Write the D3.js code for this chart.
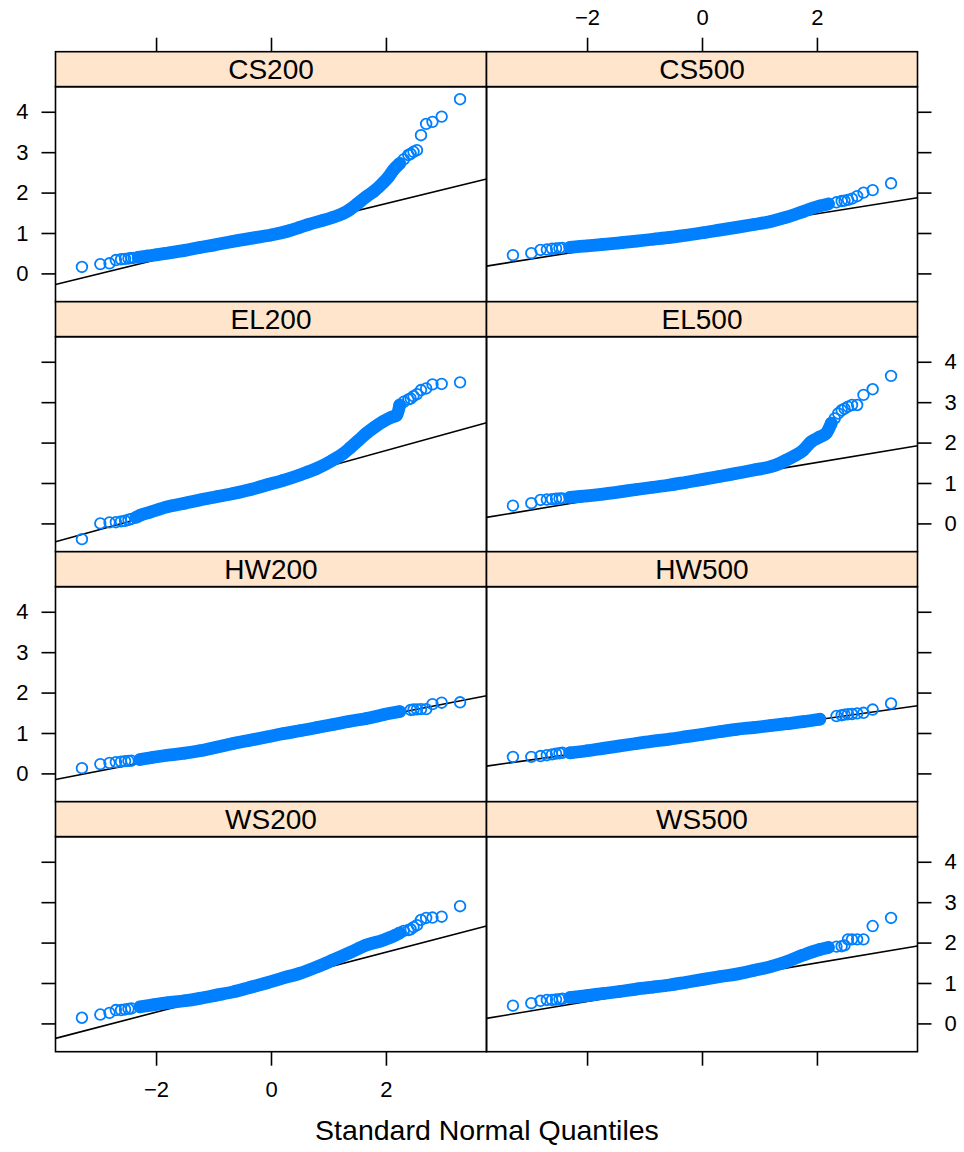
<!DOCTYPE html>
<html>
<head>
<meta charset="utf-8">
<script src="https://cdn.jsdelivr.net/npm/d3@7"></script>
<style>
  body { margin: 0; background: #fff; }
  svg { display: block; }
  text { font-family: "Liberation Sans", Arial, Helvetica, sans-serif; fill: #000; }
</style>
</head>
<body>
<svg id="chart" width="964" height="1152"></svg>
<script>
// Panel names, in lattice order (left-to-right, top-to-bottom)
const panelNames = ["CS200", "CS500", "EL200", "EL500", "HW200", "HW500", "WS200", "WS500"];
const xTicks = [-2, 0, 2];
const yTicks = [0, 1, 2, 3, 4];
const xTitle = "Standard Normal Quantiles";

// [theoretical normal quantile, sample value]
const cs200 = [[-3.29,0.16],[-2.97,0.23],[-2.81,0.25],[-2.70,0.33],[-2.61,0.35],[-2.54,0.36],[-2.48,0.37],[-2.43,0.38],[-2.39,0.385],[-2.31,0.40],[-2.16,0.43],[-2.0,0.46],[-1.81,0.50],[-1.5,0.57],[-1.24,0.64],[-1.0,0.70],[-0.67,0.79],[-0.3,0.88],[0,0.95],[0.3,1.05],[0.5,1.14],[0.67,1.22],[0.9,1.31],[1.08,1.39],[1.25,1.48],[1.37,1.58],[1.5,1.72],[1.66,1.90],[1.78,2.02],[1.95,2.24],[2.04,2.38],[2.13,2.56],[2.24,2.72],[2.31,2.82],[2.39,2.93],[2.43,2.96],[2.48,3.01],[2.54,3.05],[2.61,3.42],[2.70,3.70],[2.81,3.75],[2.97,3.88],[3.29,4.31]];
const cs500 = [[-3.29,0.45],[-2.97,0.50],[-2.81,0.58],[-2.70,0.59],[-2.61,0.61],[-2.54,0.62],[-2.48,0.625],[-2.43,0.63],[-2.30,0.645],[-2.0,0.68],[-1.72,0.72],[-1.4,0.76],[-1.14,0.80],[-0.85,0.845],[-0.56,0.89],[-0.28,0.945],[0.02,1.005],[0.3,1.07],[0.6,1.14],[0.9,1.21],[1.18,1.28],[1.47,1.39],[1.76,1.53],[2.05,1.67],[2.2,1.72],[2.34,1.76],[2.43,1.79],[2.48,1.80],[2.54,1.82],[2.61,1.85],[2.70,1.91],[2.81,2.00],[2.97,2.06],[3.29,2.23]];
const el200 = [[-3.29,-0.39],[-2.97,0.0],[-2.81,0.025],[-2.70,0.03],[-2.61,0.05],[-2.54,0.065],[-2.48,0.09],[-2.43,0.11],[-2.35,0.15],[-2.28,0.2],[-2.1,0.28],[-1.81,0.41],[-1.5,0.50],[-1.24,0.58],[-0.95,0.66],[-0.66,0.74],[-0.35,0.84],[-0.08,0.95],[0.2,1.06],[0.5,1.20],[0.8,1.36],[1.08,1.57],[1.25,1.72],[1.37,1.86],[1.52,2.05],[1.66,2.23],[1.8,2.38],[1.95,2.52],[2.10,2.63],[2.19,2.68],[2.24,2.93],[2.31,3.01],[2.39,3.07],[2.43,3.09],[2.48,3.15],[2.54,3.2],[2.61,3.30],[2.70,3.34],[2.81,3.44],[2.97,3.45],[3.29,3.49]];
const el500 = [[-3.29,0.44],[-2.97,0.50],[-2.81,0.58],[-2.70,0.59],[-2.61,0.60],[-2.54,0.61],[-2.48,0.615],[-2.43,0.62],[-2.30,0.645],[-2.0,0.68],[-1.72,0.725],[-1.43,0.78],[-1.14,0.84],[-0.85,0.895],[-0.56,0.95],[-0.27,1.02],[0.02,1.09],[0.3,1.16],[0.6,1.24],[0.9,1.32],[1.18,1.40],[1.33,1.47],[1.47,1.57],[1.62,1.68],[1.76,1.81],[1.90,2.02],[2.05,2.14],[2.16,2.23],[2.25,2.48],[2.31,2.60],[2.37,2.72],[2.43,2.80],[2.48,2.84],[2.54,2.89],[2.61,2.93],[2.70,2.93],[2.81,3.18],[2.97,3.32],[3.29,3.65]];
const hw200 = [[-3.29,0.13],[-2.97,0.23],[-2.81,0.26],[-2.70,0.28],[-2.61,0.29],[-2.54,0.305],[-2.48,0.31],[-2.43,0.315],[-2.28,0.345],[-2.05,0.40],[-1.81,0.45],[-1.5,0.50],[-1.24,0.56],[-0.95,0.65],[-0.66,0.74],[-0.37,0.82],[-0.08,0.90],[0.2,0.98],[0.5,1.055],[0.8,1.135],[1.08,1.21],[1.37,1.29],[1.66,1.36],[1.95,1.45],[2.24,1.53],[2.43,1.57],[2.48,1.58],[2.54,1.585],[2.61,1.59],[2.70,1.59],[2.81,1.715],[2.97,1.75],[3.29,1.76]];
const hw500 = [[-3.29,0.41],[-2.97,0.41],[-2.81,0.43],[-2.70,0.45],[-2.61,0.47],[-2.54,0.49],[-2.48,0.50],[-2.43,0.51],[-2.30,0.51],[-2.0,0.56],[-1.72,0.62],[-1.43,0.68],[-1.14,0.74],[-0.85,0.80],[-0.56,0.85],[-0.27,0.91],[0.02,0.97],[0.3,1.03],[0.6,1.09],[0.9,1.135],[1.18,1.18],[1.47,1.23],[1.76,1.28],[2.05,1.34],[2.34,1.42],[2.43,1.44],[2.48,1.455],[2.54,1.465],[2.61,1.47],[2.70,1.485],[2.81,1.50],[2.97,1.58],[3.29,1.73]];
const ws200 = [[-3.29,0.14],[-2.97,0.22],[-2.81,0.26],[-2.70,0.33],[-2.61,0.33],[-2.54,0.345],[-2.48,0.36],[-2.43,0.37],[-2.28,0.41],[-2.05,0.46],[-1.81,0.51],[-1.5,0.56],[-1.24,0.62],[-0.95,0.70],[-0.66,0.78],[-0.37,0.89],[-0.08,1.00],[0.2,1.12],[0.5,1.24],[0.8,1.40],[1.08,1.57],[1.37,1.75],[1.66,1.94],[1.95,2.06],[2.16,2.18],[2.24,2.24],[2.31,2.29],[2.39,2.31],[2.43,2.33],[2.48,2.38],[2.54,2.43],[2.61,2.56],[2.70,2.61],[2.81,2.62],[2.97,2.64],[3.29,2.90]];
const ws500 = [[-3.29,0.44],[-2.97,0.50],[-2.81,0.56],[-2.70,0.58],[-2.61,0.58],[-2.54,0.59],[-2.48,0.60],[-2.43,0.61],[-2.30,0.64],[-2.0,0.69],[-1.72,0.74],[-1.43,0.79],[-1.14,0.85],[-0.85,0.90],[-0.56,0.95],[-0.27,1.02],[0.02,1.09],[0.3,1.155],[0.6,1.22],[0.9,1.31],[1.18,1.40],[1.47,1.525],[1.76,1.69],[2.05,1.83],[2.2,1.88],[2.34,1.90],[2.43,1.91],[2.48,1.93],[2.54,2.08],[2.61,2.08],[2.70,2.08],[2.81,2.08],[2.97,2.41],[3.29,2.61]];

// Reference line (through the quartiles) for each panel
const qqIntercept = [1.031, 1.026, 1.017, 1.035, 0.886, 0.927, 1.019, 1.019];
const qqSlope     = [0.3475, 0.2253, 0.3927, 0.2363, 0.276, 0.199, 0.3705, 0.2386];

const panelData = [cs200, cs500, el200, el500, hw200, hw500, ws200, ws500];

// ---- layout ----
const colX0 = [55.5, 486.5];
const colW = 431;
const rowTop0 = 51.7;
const rowH = 250;
const stripH = 35;
const panelH = 215;
const xDomain = [-3.75, 3.75];
const yDomain = [-0.70, 4.62];

const symbolColor = "#0080ff";
const stripColor = "#ffe5cc";
const lw = 1.6;
const ringR = 5.3;
const ringW = 1.8;
const bandW = 12.8;
const bandQ = [-2.35, 2.25]; // where the point cloud overlaps into a solid band

const svg = d3.select("#chart");
const defs = svg.append("defs");

panelNames.forEach((name, i) => {
  const col = i % 2, row = Math.floor(i / 2);
  const x0 = colX0[col];
  const top = rowTop0 + row * rowH;
  const pTop = top + stripH, pBot = pTop + panelH;

  const x = d3.scaleLinear().domain(xDomain).range([x0, x0 + colW]);
  const y = d3.scaleLinear().domain(yDomain).range([pBot, pTop]);

  const clipId = "clip" + i;
  defs.append("clipPath").attr("id", clipId)
    .append("rect").attr("x", x0).attr("y", pTop).attr("width", colW).attr("height", panelH);

  const g = svg.append("g").attr("clip-path", `url(#${clipId})`);

  // reference line
  g.append("line")
    .attr("x1", x(xDomain[0])).attr("y1", y(qqIntercept[i] + qqSlope[i] * xDomain[0]))
    .attr("x2", x(xDomain[1])).attr("y2", y(qqIntercept[i] + qqSlope[i] * xDomain[1]))
    .attr("stroke", "#000").attr("stroke-width", lw);

  const data = panelData[i];

  // dense middle of the point cloud
  const dense = data.filter(d => d[0] >= bandQ[0] && d[0] <= bandQ[1]);
  g.append("path")
    .datum(dense)
    .attr("d", d3.line().x(d => x(d[0])).y(d => y(d[1])).curve(d3.curveMonotoneX))
    .attr("fill", "none")
    .attr("stroke", symbolColor)
    .attr("stroke-width", bandW)
    .attr("stroke-linecap", "round")
    .attr("stroke-linejoin", "round");

  // individual points
  g.selectAll("circle.pt").data(data).join("circle")
    .attr("class", "pt")
    .attr("cx", d => x(d[0])).attr("cy", d => y(d[1]))
    .attr("r", ringR)
    .attr("fill", "none")
    .attr("stroke", symbolColor)
    .attr("stroke-width", ringW);

  // strip
  svg.append("rect")
    .attr("x", x0).attr("y", top).attr("width", colW).attr("height", stripH)
    .attr("fill", stripColor).attr("stroke", "#000").attr("stroke-width", lw);
  svg.append("text")
    .attr("x", x0 + colW / 2).attr("y", top + 26.8)
    .attr("text-anchor", "middle")
    .style("font-size", "28px")
    .text(name);

  // panel frame
  svg.append("rect")
    .attr("x", x0).attr("y", pTop).attr("width", colW).attr("height", panelH)
    .attr("fill", "none").attr("stroke", "#000").attr("stroke-width", lw);

  // y axes: labels alternate left (rows 0,2) / right (rows 1,3)
  const labelLeft = row % 2 === 0;
  const yl = d3.axisLeft(y).tickValues(yTicks).tickSize(14).tickSizeOuter(0).tickPadding(13)
    .tickFormat(labelLeft ? d3.format("d") : () => "");
  const yr = d3.axisRight(y).tickValues(yTicks).tickSize(14).tickSizeOuter(0).tickPadding(13)
    .tickFormat(!labelLeft ? d3.format("d") : () => "");
  if (col === 0) styleAxis(svg.append("g").attr("transform", `translate(${x0},0)`).call(yl));
  if (col === 1) styleAxis(svg.append("g").attr("transform", `translate(${x0 + colW},0)`).call(yr));

  // x axes: top of first row, bottom of last row
  if (row === 0) {
    const xt = d3.axisTop(x).tickValues(xTicks).tickSize(14).tickSizeOuter(0).tickPadding(12.3)
      .tickFormat(col === 1 ? d3.format("d") : () => "");
    styleAxis(svg.append("g").attr("transform", `translate(0,${top})`).call(xt));
  }
  if (row === 3) {
    const xb = d3.axisBottom(x).tickValues(xTicks).tickSize(14).tickSizeOuter(0).tickPadding(15.2)
      .tickFormat(col === 0 ? d3.format("d") : () => "");
    styleAxis(svg.append("g").attr("transform", `translate(0,${pBot})`).call(xb));
  }
});

function styleAxis(sel) {
  sel.select(".domain").remove();
  sel.selectAll(".tick line").attr("stroke", "#000").attr("stroke-width", lw);
  sel.selectAll(".tick text")
    .style("font-size", "22px")
    .style("font-family", '"Liberation Sans", Arial, Helvetica, sans-serif')
    .attr("fill", "#000");
  sel.attr("font-size", null).attr("font-family", null);
}

svg.append("text")
  .attr("x", 487).attr("y", 1140)
  .attr("text-anchor", "middle")
  .style("font-size", "28.5px")
  .text(xTitle);
</script>
</body>
</html>
